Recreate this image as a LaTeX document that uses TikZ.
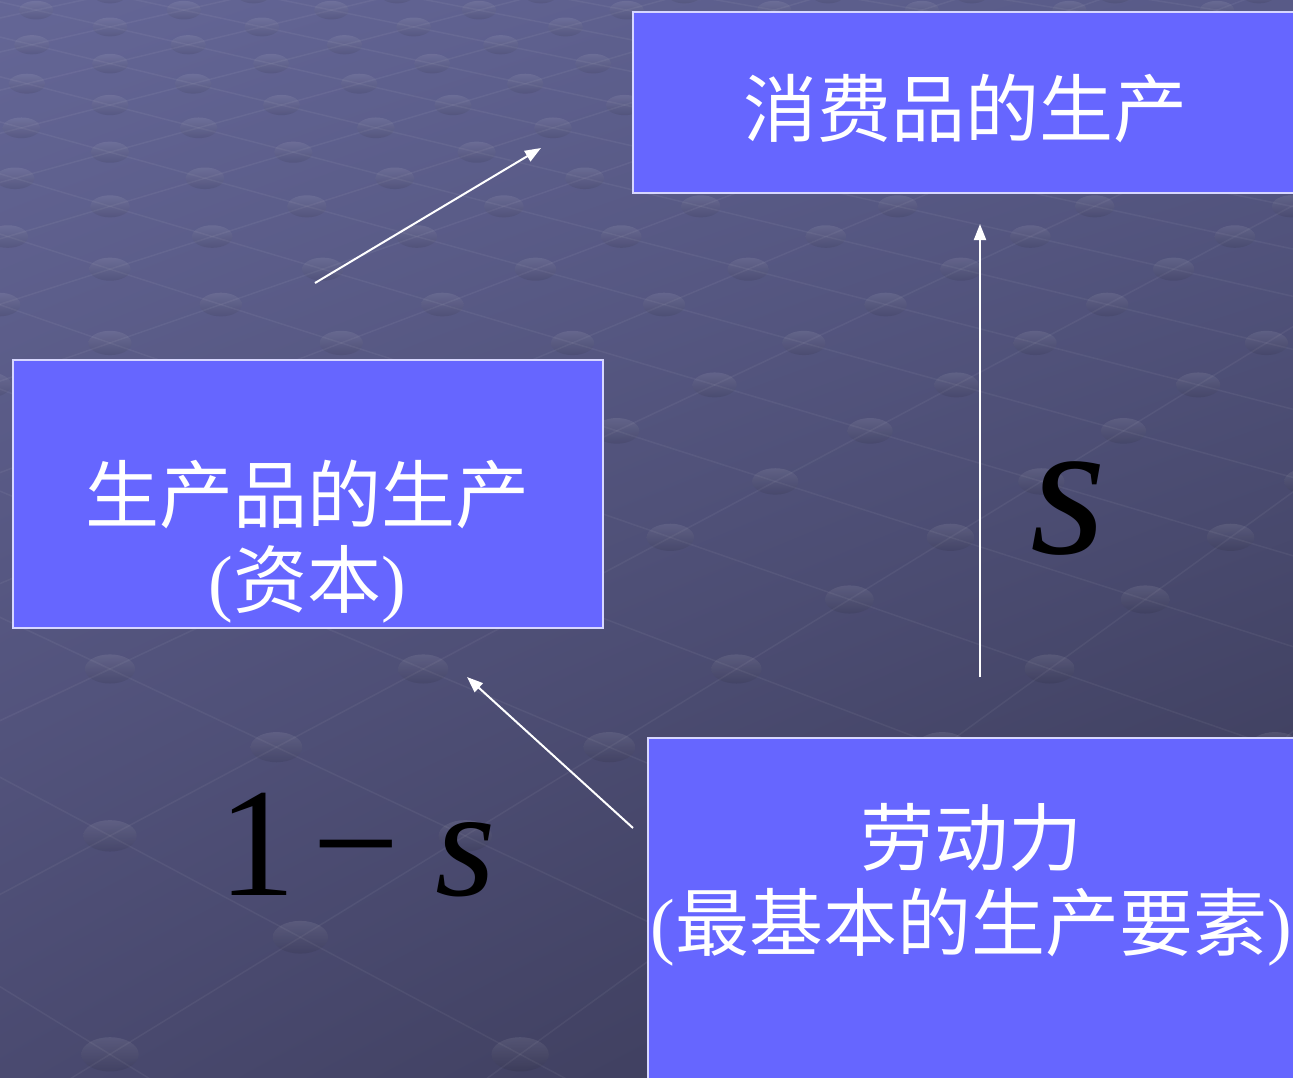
\documentclass[tikz,border=0pt]{standalone}
\usepackage{fontspec}
\setmainfont{Liberation Serif}
\newfontfamily\cjk{Noto Sans CJK SC}
\usetikzlibrary{arrows.meta,shadings}
\definecolor{boxblue}{RGB}{102,102,255}
\definecolor{boxedge}{RGB}{215,215,255}
\definecolor{bgUL}{RGB}{100,102,150}
\definecolor{bgUR}{RGB}{88,90,135}
\definecolor{bgLL}{RGB}{74,74,112}
\definecolor{bgLR}{RGB}{55,55,82}
\begin{document}
\begin{tikzpicture}[x=1pt,y=-1pt,
  box/.style={draw=boxedge, line width=1.5pt, fill=boxblue, inner sep=0pt, anchor=north west},
  lbl/.style={text=white, font=\cjk\fontsize{74}{85}\selectfont, align=center, inner sep=0pt},
  arr/.style={draw=white, line width=2pt, -{Triangle[length=16pt,width=12pt]}},
  bump/.style={top color=white, bottom color=black, opacity=0.09},
  gridline/.style={draw=white, opacity=0.05, line width=1.5pt}]
\useasboundingbox (0,0) rectangle (1293,1077);
\begin{scope}
\clip (0,0) rectangle (1293,1077);
\shade[upper left=bgUL, upper right=bgUR, lower left=bgLL, lower right=bgLR] (0,0) rectangle (1293,1077);
% floor grid lines (perspective)
\pgfmathsetmacro{\dA}{10000/(6.13-0.474)}
\pgfmathsetmacro{\dB}{10000/(6.13+0.474*26)}
\foreach \c in {-14,...,4} {
  \pgfmathsetmacro{\xa}{110+(\c-0.5)*0.2514*\dA}
  \pgfmathsetmacro{\xb}{110+(\c+13)*0.2514*\dB}
  \draw[gridline] (\xa,\dA-577) -- (\xb,\dB-577);
}
\foreach \c in {-1,...,22} {
  \pgfmathsetmacro{\xa}{110+(\c+0.5)*0.2514*\dA}
  \pgfmathsetmacro{\xb}{110+(\c-13)*0.2514*\dB}
  \draw[gridline] (\xa,\dA-577) -- (\xb,\dB-577);
}
% bumps
\foreach \k in {0,...,25} {
  \pgfmathsetmacro{\d}{10000/(6.13+0.474*\k)}
  \pgfmathsetmacro{\yy}{\d-577}
  \pgfmathsetmacro{\s}{0.2514*\d}
  \pgfmathsetmacro{\p}{mod(\k,2)/2}
  \pgfmathsetmacro{\rx}{25*sqrt(\d/1237)}
  \pgfmathsetmacro{\ry}{14.5*(\d/1237)^0.6}
  \foreach \m in {-1,...,10} {
    \pgfmathsetmacro{\xx}{110+(\m+\p)*\s}
    \ifdim\xx pt<1340pt
      \shade[bump] (\xx,\yy) ellipse [x radius=\rx pt, y radius=\ry pt];
    \fi
  }
}
% boxes
\node[box, minimum width=678pt, minimum height=181pt] (b1) at (632,11) {};
\node[box, minimum width=590pt, minimum height=268pt] (b2) at (12,359) {};
\node[box, minimum width=663pt, minimum height=353pt] (b3) at (647,737) {};
\end{scope}
% box texts
\node[lbl] (t1) at (965,108) {消费品的生产};
\node[lbl] (t2) at (307,542) {生产品的生产\\{\rmfamily(}资本{\rmfamily)}};
\node[lbl] (t3) at (971,885) {劳动力\\{\rmfamily(}最基本的生产要素{\rmfamily)}};
% arrows
\coordinate (a1s) at (315,283);
\coordinate (a1e) at (541,148);
\coordinate (a2s) at (980,677);
\coordinate (a2e) at (980,224);
\coordinate (a3s) at (633,828);
\coordinate (a3e) at (467,677);
\draw[arr] (a1s) -- (a1e);
\draw[arr] (a2s) -- (a2e);
\draw[arr] (a3s) -- (a3e);
% math labels
\node[anchor=base, inner sep=0pt, font=\fontsize{195}{195}\selectfont\itshape] (sl) at (1068,553) {s};
\node[anchor=base west, inner sep=0pt, font=\fontsize{155}{155}\selectfont] (oms) at (218,895) {1\kern17pt−\kern35pt\textit{s}};
\end{tikzpicture}
\end{document}
